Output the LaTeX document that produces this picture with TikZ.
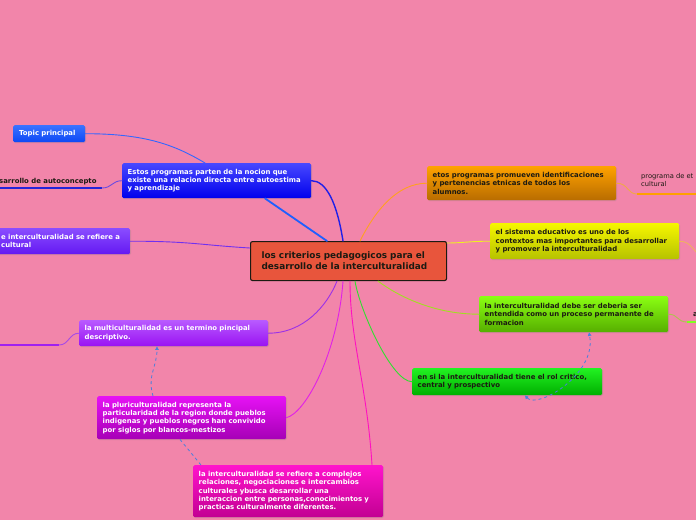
\documentclass[tikz,border=0pt]{standalone}
\usepackage{fontspec}
\setmainfont{DejaVu Sans}
\usetikzlibrary{arrows.meta,shadows}
\definecolor{mapbg}{HTML}{F285AA}
\definecolor{mapink}{HTML}{1C1A12}
\definecolor{mapdash}{HTML}{4A7FDD}
\definecolor{maproot}{HTML}{E8553C}
% box shades, top and bottom
\definecolor{topicT}{HTML}{3A72FF}\definecolor{topicB}{HTML}{0D48F5}
\definecolor{estosT}{HTML}{4848FF}\definecolor{estosB}{HTML}{0000EC}
\definecolor{intercT}{HTML}{8A4DFF}\definecolor{intercB}{HTML}{6418F2}
\definecolor{multiT}{HTML}{B85AFF}\definecolor{multiB}{HTML}{9A12F2}
\definecolor{pluriT}{HTML}{E612F4}\definecolor{pluriB}{HTML}{A600B6}
\definecolor{complejoT}{HTML}{FF14CC}\definecolor{complejoB}{HTML}{C20092}
\definecolor{etnicoT}{HTML}{FFA200}\definecolor{etnicoB}{HTML}{B86C00}
\definecolor{sistemaT}{HTML}{F6F600}\definecolor{sistemaB}{HTML}{B6C200}
\definecolor{procesoT}{HTML}{8AFF12}\definecolor{procesoB}{HTML}{56AE00}
\definecolor{rolT}{HTML}{22F222}\definecolor{rolB}{HTML}{00AE00}
% branch colours
\definecolor{lnTopic}{HTML}{3366FF}
\definecolor{lnEstos}{HTML}{1F5FFF}
\definecolor{lnEstosB}{HTML}{2020E8}
\definecolor{lnAutoc}{HTML}{2424D8}
\definecolor{lnAutocC}{HTML}{6A4AE0}
\definecolor{lnInterc}{HTML}{7030F0}
\definecolor{lnMulti}{HTML}{A020F0}
\definecolor{lnMultiC}{HTML}{A64AE6}
\definecolor{lnMultiR}{HTML}{9A30E8}
\definecolor{lnPluri}{HTML}{E020E8}
\definecolor{lnComplejo}{HTML}{FF10C0}
\definecolor{lnRol}{HTML}{30E030}
\definecolor{lnProceso}{HTML}{A0E020}
\definecolor{lnSistema}{HTML}{F0F020}
\definecolor{lnEtnico}{HTML}{FFA020}
\definecolor{lnEtnicoC}{HTML}{F0A848}
\definecolor{lnEtnicoR}{HTML}{FFA000}
\definecolor{lnSistemaR}{HTML}{F0B060}
\definecolor{lnProcesoC}{HTML}{B0C050}
\definecolor{lnProcesoR}{HTML}{80FF20}

\tikzset{
  topicbox/.style={anchor=north west,rounded corners=1.5pt,inner xsep=5.5pt,
    inner ysep=0pt,align=left,text=white,
    font=\fontsize{6.9}{8.3}\selectfont\bfseries,
    drop shadow={opacity=.25,shadow xshift=.8pt,shadow yshift=-1pt}},
  darkbox/.style={topicbox,text=mapink},
  link/.style={line width=.9pt,line cap=round},
  thicklink/.style={line width=1.8pt,line cap=round},
  relation/.style={mapdash,line width=.8pt,dashed,
    {Triangle[length=3.5pt,width=3.5pt]}-{Triangle[length=3.5pt,width=3.5pt]}}
}

\begin{document}
\begin{tikzpicture}[x=1pt,y=-1pt]
    \useasboundingbox (0,0) rectangle (696,520);
    \fill[mapbg] (0,0) rectangle (696,520);

    % root
    \node[anchor=north west,draw=mapink,line width=1.1pt,fill=maproot,
      rounded corners=2pt,minimum width=196pt,minimum height=39pt,
      inner xsep=11pt,text width=174pt,align=left,text=mapink,
      font=\fontsize{8.9}{11}\selectfont\bfseries] (root) at (250,241)
      {los criterios pedagogicos para el\\desarrollo de la interculturalidad};

    % left side
    \node[topicbox,top color=topicT,bottom color=topicB,minimum width=72pt,
      minimum height=17pt,inner xsep=6pt,text width=60pt] (topic) at (13,125) {Topic principal};
    \node[topicbox,top color=estosT,bottom color=estosB,minimum width=189pt,
      minimum height=35pt,text width=178pt] (estos) at (122,163)
      {Estos programas parten de la nocion que\\existe una relacion directa entre autoestima\\y aprendizaje};
    \node[anchor=base west,inner sep=0pt,text=mapink,
      font=\fontsize{6.9}{8.3}\selectfont\bfseries] (autoc) at (-1,183)
      {sarrollo de autoconcepto};
    \coordinate (autocL) at (0,188);
    \coordinate (autocR) at (102,188);
    \node[topicbox,top color=intercT,bottom color=intercB,minimum width=138pt,
      minimum height=26pt,inner xsep=9pt,text width=120pt] (interc) at (-8,228)
      {e interculturalidad se refiere a\\cultural};
    \node[topicbox,top color=multiT,bottom color=multiB,minimum width=189pt,
      minimum height=26pt,text width=178pt] (multi) at (79,320)
      {la multiculturalidad es un termino pincipal\\descriptivo.};
    \coordinate (multiL) at (0,345);
    \coordinate (multiR) at (59,345);
    \node[topicbox,top color=pluriT,bottom color=pluriB,minimum width=189pt,
      minimum height=43pt,text width=178pt] (pluri) at (97,396)
      {la pluriculturalidad representa la\\particularidad de la region donde pueblos\\indigenas y pueblos negros han convivido\\por siglos por blancos-mestizos};
    \node[topicbox,top color=complejoT,bottom color=complejoB,minimum width=190pt,
      minimum height=52pt,text width=179pt] (complejo) at (193,465)
      {la interculturalidad se refiere a complejos\\relaciones, negociaciones e intercambios\\culturales ybusca desarrollar una\\interaccion entre personas,conocimientos y\\practicas culturalmente diferentes.};

    % right side
    \node[darkbox,top color=etnicoT,bottom color=etnicoB,minimum width=189pt,
      minimum height=34pt,text width=178pt] (etnico) at (427,166)
      {etos programas promueven identificaciones\\y pertenencias etnicas de todos los\\alumnos.};
    \node[anchor=north west,inner sep=0pt,align=left,text=mapink,
      font=\fontsize{6.7}{8.6}\selectfont] (etnicotxt) at (641,173)
      {programa de et\\cultural};
    \coordinate (etnicoL) at (637,194);
    \coordinate (etnicoR) at (700,194);
    \node[darkbox,top color=sistemaT,bottom color=sistemaB,minimum width=189pt,
      minimum height=36pt,text width=178pt] (sistema) at (490,223)
      {el sistema educativo es uno de los\\contextos mas importantes para desarrollar\\y promover la interculturalidad};
    \coordinate (sistemaR) at (702,258);
    \node[darkbox,top color=procesoT,bottom color=procesoB,minimum width=189pt,
      minimum height=36pt,text width=178pt] (proceso) at (479,296)
      {la interculturalidad debe ser deberia ser\\entendida como un proceso permanente de\\formacion};
    \node[anchor=base west,inner sep=0pt,text=mapink,
      font=\fontsize{6.9}{8.3}\selectfont\bfseries] (procesotxt) at (693,316) {a};
    \coordinate (procesoL) at (687,322);
    \coordinate (procesoR) at (700,322);
    \node[darkbox,top color=rolT,bottom color=rolB,minimum width=190pt,
      minimum height=27pt,text width=179pt] (rol) at (412,368)
      {en si la interculturalidad tiene el rol critico,\\central y prospectivo};

    % branches
    \draw[link,lnTopic] (topic.east) .. controls +(60,0) and +(-30,-18)
      .. ([xshift=83pt]estos.north west);
    \draw[thicklink,lnEstos] ([xshift=143pt]estos.south west)
      -- ([xshift=77pt]root.north west);
    \draw[link,line width=1.4pt,lnEstosB] (estos.east) .. controls +(15,0) and +(-6,-38)
      .. ([xshift=93pt]root.north west);
    \draw[line width=2.6pt,lnAutoc] (autocL) -- (autocR);
    \draw[link,lnAutocC] (autocR) .. controls +(10,0) and +(-10,0) .. (estos.west);
    \draw[link,lnInterc] (interc.east) .. controls +(60,0) and +(-50,-3)
      .. ([yshift=-7pt]root.north west);
    \draw[line width=2.2pt,lnMulti] (multiL) -- (multiR);
    \draw[link,lnMultiC] (multiR) .. controls +(10,0) and +(-10,0) .. (multi.west);
    \draw[link,lnMultiR] (multi.east) .. controls +(35,0) and +(-10,25)
      .. ([xshift=87pt]root.south west);
    \draw[link,lnPluri] (pluri.east) .. controls +(20,-5) and +(-5,70)
      .. ([xshift=93pt]root.south west);
    \draw[link,lnComplejo] ([xshift=179pt]complejo.north west) .. controls +(-5,-80) and +(0,60)
      .. ([xshift=100pt]root.south west);
    \draw[link,lnRol] (rol.west) .. controls +(-20,0) and +(5,30)
      .. ([xshift=105pt]root.south west);
    \draw[link,lnProceso] (proceso.west) .. controls +(-45,0) and +(20,15)
      .. ([xshift=128pt]root.south west);
    \draw[link,lnSistema] (sistema.west) .. controls +(-20,0) and +(15,0)
      .. ([yshift=-2pt]root.north east);
    \draw[link,lnEtnico] (etnico.west) .. controls +(-30,0) and +(15,-30)
      .. ([xshift=110pt]root.north west);
    \draw[link,lnEtnicoC] (etnico.east) .. controls +(12,0) and +(-10,0) .. (etnicoL);
    \draw[line width=1.8pt,lnEtnicoR] (etnicoL) -- (etnicoR);
    \draw[link,lnSistemaR] (sistema.east) .. controls +(12,0) and +(-8,-6) .. (sistemaR);
    \draw[link,lnProcesoC] (proceso.east) .. controls +(10,0) and +(-10,0) .. (procesoL);
    \draw[line width=1.8pt,lnProcesoR] (procesoL) -- (procesoR);

    % relations
    \draw[relation,-{Triangle[length=3.5pt,width=3.5pt]}]
      ([xshift=56pt]pluri.north west) .. controls +(-6,-20) and +(0,20)
      .. ([xshift=78pt]multi.south west);
    \draw[mapdash,line width=.8pt,dashed] ([xshift=83pt]pluri.south west)
      -- ([xshift=8pt]complejo.north west);
    \draw[relation] ([xshift=113pt]rol.south west) .. controls +(12,14) and +(8,42)
      .. ([xshift=110pt]proceso.south west);
  \end{tikzpicture}
\end{document}
